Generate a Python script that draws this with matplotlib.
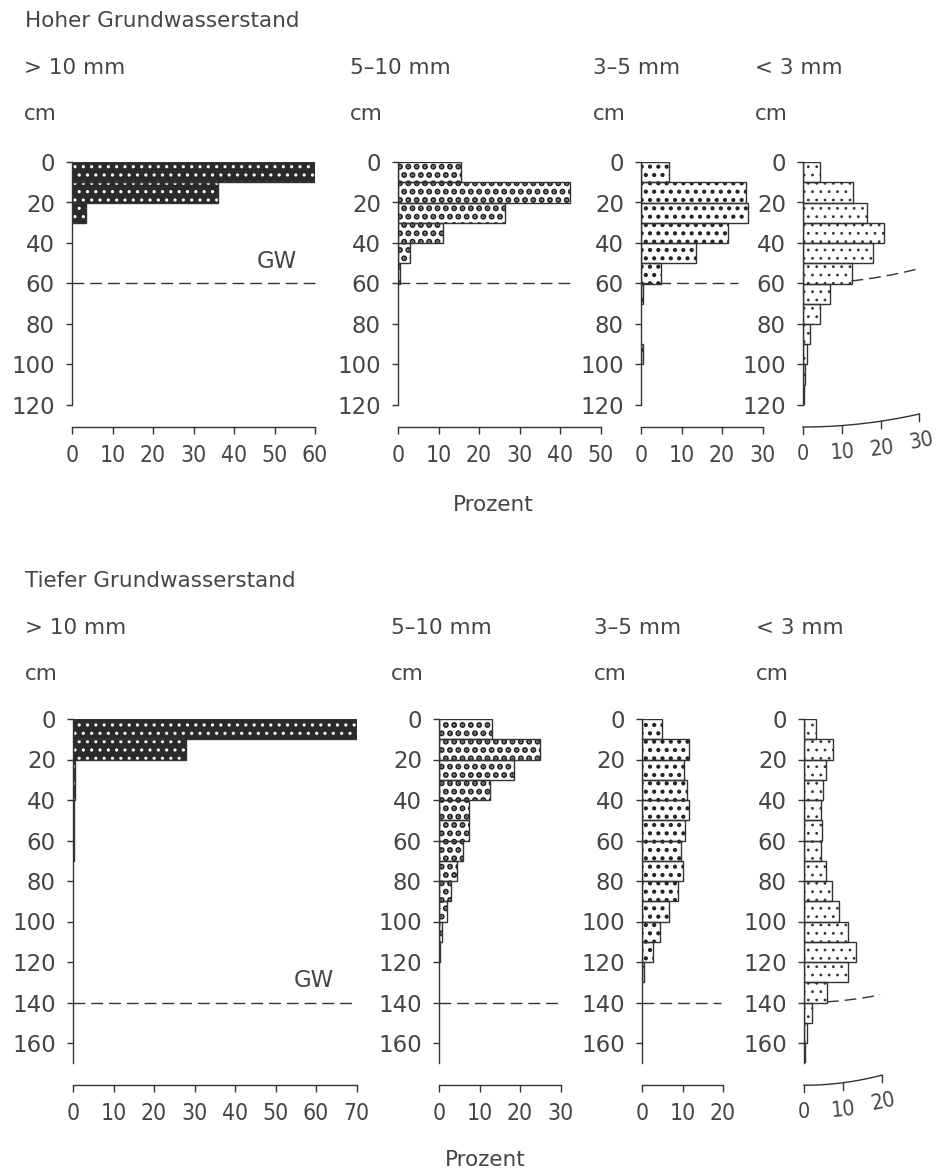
import numpy as np
import matplotlib
matplotlib.use('Agg')
import matplotlib.pyplot as plt
from matplotlib.transforms import blended_transform_factory

# Anteile (%) je 10-cm-Tiefenstufe, von 0 cm abwärts
hoch_gt10 = [60, 36, 3.5]
hoch_5_10 = [15.5, 42.5, 26.5, 11, 3, 0.5]
hoch_3_5 = [7, 26, 26.5, 21.5, 13.5, 5, 0.5, 0, 0, 0.4]
hoch_lt3 = [4.5, 13, 16.5, 21, 18, 12.5, 7, 4.5, 1.7, 1, 0.6, 0.3]

tief_gt10 = [70, 28, 0.5, 0.4, 0.3, 0.3, 0.2]
tief_5_10 = [13, 25, 18.5, 12.5, 7.5, 7.5, 6, 4.5, 3, 2, 0.8, 0.3]
tief_3_5 = [5, 11.5, 10.3, 11, 11.7, 10.5, 9.6, 10, 8.8, 6.6, 4.4, 2.8, 0.5]
tief_lt3 = [3, 7.5, 5.7, 5, 4.4, 4.6, 4.4, 5.7, 7.3, 9, 11.4, 13.5, 11.4, 5.9, 2.1, 0.7, 0.3]

klassen = ['> 10 mm', '5\u201310 mm', '3\u20135 mm', '< 3 mm']
hoch_xticks = [[0, 10, 20, 30, 40, 50, 60], [0, 10, 20, 30, 40, 50], [0, 10, 20, 30], [0, 10, 20, 30]]
tief_xticks = [[0, 10, 20, 30, 40, 50, 60, 70], [0, 10, 20, 30], [0, 10, 20], [0, 10, 20]]
hoch_yticks = [0, 20, 40, 60, 80, 100, 120]
tief_yticks = [0, 20, 40, 60, 80, 100, 120, 140, 160]
hoch_gw = 60
tief_gw = 140
hoch_gw_ende = [60, 43.5, 24]
tief_gw_ende = [70, 30, 19.6]

W, H = 936, 1175
PX_PCT = 4.05    # px je Prozent
PX_PCT_4 = 3.88  # letzte Spalte, im Original etwas gestaucht
PX_CM = 2.025    # px je cm
TXT = '#454545'
LINE = '#333333'
NARROW = ['Liberation Sans Narrow', 'DejaVu Sans']
FS_TICK = 16.5
FS_TXT = 15.5

stile = [
    dict(face='#2a2a2a', dots='white', hatch='..', hlw=1.1),
    dict(face='white', dots='#222222', hatch='..', hlw=3.0),
    dict(face='white', dots='#222222', hatch='..', hlw=1.8),
    dict(face='white', dots='#333333', hatch='..', hlw=0.8),
]

fig = plt.figure(figsize=(W / 100, H / 100), dpi=100)
fig.patch.set_facecolor('white')


def px_axes(left, top, w, h):
    return fig.add_axes([left / W, 1 - (top + h) / H, w / W, h / H])


def draw_panel(ax, vals, stil, xticks, yticks, ymax, gw, gw_ende, krumm=None):
    vals = np.array(vals, dtype=float)
    tiefe = np.arange(len(vals)) * 10 + 5
    m = vals > 0
    plt.rcParams['hatch.linewidth'] = stil['hlw']
    bars = ax.barh(tiefe[m], vals[m], height=10, left=0, color=stil['face'],
                   edgecolor=stil['dots'], hatch=stil['hatch'], linewidth=0)
    for b in bars:
        if hasattr(b, 'set_hatch_linewidth'):
            b.set_hatch_linewidth(stil['hlw'])
    ax.barh(tiefe[m], vals[m], height=10, left=0, fill=False,
            edgecolor=LINE, linewidth=1.0)

    xmax = xticks[-1]
    ax.set_xlim(0, xmax)
    ax.set_ylim(ymax, 0)
    ax.patch.set_visible(False)
    for s in ['top', 'right']:
        ax.spines[s].set_visible(False)
    ax.spines['left'].set_color(LINE)
    ax.spines['left'].set_linewidth(1.0)
    ax.set_yticks(yticks)
    ax.set_yticklabels([str(t) for t in yticks], fontsize=FS_TICK, color=TXT)
    ax.tick_params(axis='y', direction='out', length=4.3, width=1.0, pad=8,
                   color=LINE)

    h_px = ymax * PX_CM
    if krumm is None:
        ax.spines['bottom'].set_position(('outward', 22 * 0.72))
        ax.spines['bottom'].set_color(LINE)
        ax.spines['bottom'].set_linewidth(1.0)
        ax.set_xticks(xticks)
        ax.set_xticklabels([str(t) for t in xticks], fontsize=FS_TICK, color=TXT,
                           family=NARROW, stretch='condensed')
        ax.tick_params(axis='x', direction='out', length=5, width=1.0, pad=7,
                       color=LINE)
        ax.plot([0, gw_ende], [gw, gw], color=LINE, lw=1.0,
                dashes=(8.5, 4.3), clip_on=False)
    else:
        # gewölbte Achse (Seitenkrümmung im Original)
        rise, rise_gw = krumm
        ax.spines['bottom'].set_visible(False)
        ax.set_xticks([])
        tr = blended_transform_factory(ax.transData, ax.transAxes)
        w_px = xmax * PX_PCT_4
        xs = np.linspace(0, xmax, 60)
        ys = (-22 + rise * (xs / xmax) ** 2) / h_px
        ax.plot(xs, ys, color=LINE, lw=1.0, transform=tr, clip_on=False)
        for t in xticks:
            y0 = (-22 + rise * (t / xmax) ** 2) / h_px
            ax.plot([t, t], [y0, y0 - 7 / h_px], color=LINE, lw=1.0,
                    transform=tr, clip_on=False)
            rot = np.degrees(np.arctan(1.6 * rise * (t / xmax) / w_px))
            ax.text(t, y0 - 17 / h_px, str(t), transform=tr, ha='center',
                    va='top', rotation=rot, rotation_mode='anchor',
                    fontsize=FS_TICK - 1, color=TXT, family=NARROW,
                    stretch='condensed')
        x0 = vals[int(gw / 10) - 1]
        gx = np.linspace(x0, xmax * 0.98, 40)
        gy = gw - rise_gw * (gx / xmax) ** 2 / PX_CM
        ax.plot(gx, gy, color=LINE, lw=1.0, dashes=(8.5, 4.3), clip_on=False)


def draw_row(titel, werte, xticks, yticks, ymax, gw, gw_ende, lefts, top,
             y_titel, gw_text, krumm):
    fig.text(25 / W, 1 - y_titel / H, titel, fontsize=FS_TXT, color=TXT,
             va='baseline')
    for i, vals in enumerate(werte):
        xmax = xticks[i][-1]
        scale = PX_PCT if i < 3 else PX_PCT_4
        ax = px_axes(lefts[i], top, xmax * scale, ymax * PX_CM)
        draw_panel(ax, vals, stile[i], xticks[i], yticks, ymax, gw,
                   gw_ende[i] if i < 3 else None, krumm if i == 3 else None)
        fig.text((lefts[i] - 48) / W, 1 - (y_titel + 47) / H, klassen[i],
                 fontsize=FS_TXT, color=TXT, va='baseline')
        fig.text((lefts[i] - 48) / W, 1 - (y_titel + 93) / H, 'cm',
                 fontsize=FS_TXT, color=TXT, va='baseline')
        if i == 0:
            ax.text(gw_text[0], gw_text[1], 'GW', ha='center', va='center',
                    fontsize=FS_TICK, color=TXT)


draw_row('Hoher Grundwasserstand', [hoch_gt10, hoch_5_10, hoch_3_5, hoch_lt3],
         hoch_xticks, hoch_yticks, 120, hoch_gw, hoch_gw_ende,
         [72, 398, 641, 803], 162, 27, (50.6, hoch_gw - 11), (13, 15))
draw_row('Tiefer Grundwasserstand', [tief_gt10, tief_5_10, tief_3_5, tief_lt3],
         tief_xticks, tief_yticks, 170, tief_gw, tief_gw_ende,
         [73, 439, 642, 804], 719, 587, (59.4, tief_gw - 10.8), (10, 8))

fig.text(493 / W, 1 - 505 / H, 'Prozent', ha='center', va='center',
         fontsize=FS_TXT, color=TXT)
fig.text(485 / W, 1 - 1160 / H, 'Prozent', ha='center', va='center',
         fontsize=FS_TXT, color=TXT)

fig.savefig('out.png', dpi=100, facecolor='white')
